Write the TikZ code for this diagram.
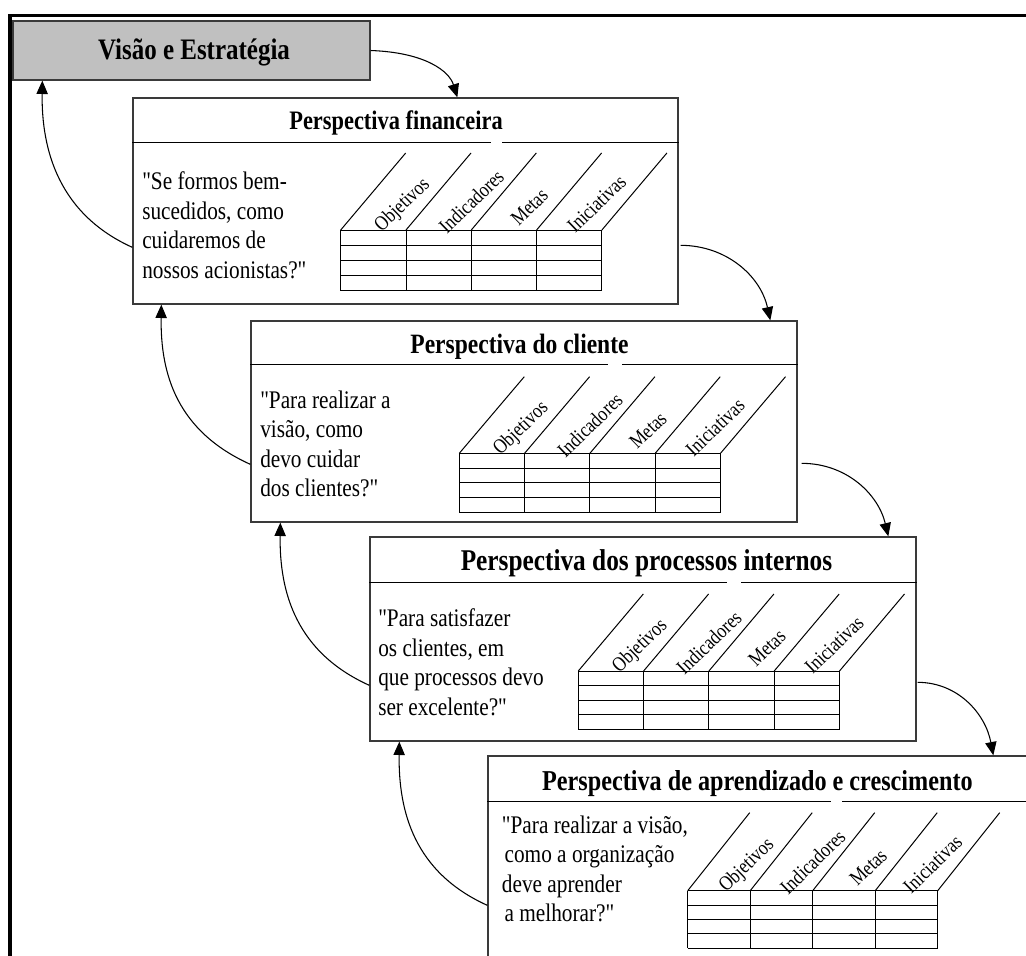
\documentclass[tikz,border=0pt]{standalone}
\usepackage{fontspec}
\setmainfont{Liberation Serif}[FakeStretch=0.84, Ligatures=TeXOff]
\usetikzlibrary{arrows.meta,fit,calc}
\definecolor{visfill}{HTML}{C0C0C0}
\definecolor{edge}{HTML}{3A3A3A}

\tikzset{
  frame/.style={line width=2.3pt, black},
  panel/.style={draw=edge, line width=1pt, fill=white, inner sep=0pt},
  vispanel/.style={draw=edge, line width=1pt, fill=visfill, inner sep=0pt},
  rule/.style={draw=black, line width=0.9pt},
  grid/.style={draw=black, line width=0.75pt},
  head/.style={font=\fontsize{#1}{25}\selectfont\bfseries, inner sep=0pt, anchor=base},
  head/.default=21,
  body/.style={font=\fontsize{19}{22.1}\selectfont, inner sep=0pt, align=left, anchor=base west},
  lbl/.style={font=\fontsize{15.5}{17}\selectfont, inner sep=0pt, rotate=44},
  flow/.style={draw=black, line width=0.8pt, -{Triangle[length=10pt,width=8.5pt]}},
}

% Grid of a scorecard panel: #1 name prefix, (#2,#3) top-left corner,
% #4 column width, #5 row height, (#6,#7) run and rise of the slanted rules
\newcommand\kpigrid[7]{%
  \foreach \i in {0,...,4} {
    \draw[grid] ({#2+\i*#4},{#3}) -- ++(#6,-#7);
    \draw[grid] ({#2+\i*#4},{#3}) -- ({#2+\i*#4},{#3+4*#5});
  }
  \foreach \j in {0,...,4}
    \draw[grid] ({#2},{#3+\j*#5}) -- ({#2+4*#4},{#3+\j*#5});
  \node[lbl] (#1-obj) at ({#2+0.95*#4},{#3-0.32*#7}) {Objetivos};
  \node[lbl] (#1-ind) at ({#2+2.00*#4},{#3-0.37*#7}) {Indicadores};
  \node[lbl] (#1-met) at ({#2+2.89*#4},{#3-0.30*#7}) {Metas};
  \node[lbl] (#1-ini) at ({#2+3.92*#4},{#3-0.34*#7}) {Iniciativas};
}

\begin{document}
\begin{tikzpicture}[x=0.75pt,y=-0.75pt]
\useasboundingbox (0,0) rectangle (1026,956);

% outer frame
\draw[frame] (10,1000) -- (10,15.5) -- (1100,15.5);

% panels
\node[vispanel, fit={(13,21) (370,80)}] (vis) {};
\node[panel, fit={(133,98) (678,304)}] (fin) {};
\node[panel, fit={(251,321) (797,522)}] (cli) {};
\node[panel, fit={(370,537) (916,741)}] (pro) {};
\node[panel, fit={(488,756) (1030,975)}] (apr) {};

% title separators (each with a small break)
\draw[rule] ($(fin.north west)+(0,45)$) -- ($(fin.north west)+(359,45)$);
\draw[rule] ($(fin.north west)+(370,45)$) -- ($(fin.north east)+(0,45)$);
\draw[rule] ($(cli.north west)+(0,44)$) -- ($(cli.north west)+(358,44)$);
\draw[rule] ($(cli.north west)+(372,44)$) -- ($(cli.north east)+(0,44)$);
\draw[rule] ($(pro.north west)+(0,46)$) -- ($(pro.north west)+(358,46)$);
\draw[rule] ($(pro.north west)+(372,46)$) -- ($(pro.north east)+(0,46)$);
\draw[rule] ($(apr.north west)+(0,46)$) -- ($(apr.north west)+(344,46)$);
\draw[rule] ($(apr.north west)+(355,46)$) -- ($(apr.north east)+(0,46)$);

% measure grids
\kpigrid{fg}{340.7}{230}{65.3}{15.2}{65}{77}
\kpigrid{cg}{459.3}{453.3}{65.3}{14.75}{65}{76.6}
\kpigrid{pg}{578.3}{671}{65.3}{14.6}{65}{77}
\kpigrid{ag}{687.7}{890.7}{62.5}{14.4}{62}{78}

% titles
\node[head=22.3] (vis-t) at (194,60) {Visão e Estratégia};
\node[head=20] (fin-t) at (396,130) {Perspectiva financeira};
\node[head=21] (cli-t) at (519.5,353.5) {Perspectiva do cliente};
\node[head=22.6] (pro-t) at (646.5,570) {Perspectiva dos processos internos};
\node[head=21.6] (apr-t) at (757.4,790) {Perspectiva de aprendizado e crescimento};

% guiding questions (anchored at the baseline of the last line)
\node[body] (fin-q) at (142,278) {"Se formos bem-\\sucedidos, como\\cuidaremos de\\nossos acionistas?"};
\node[body] (cli-q) at (260,496.7) {"Para realizar a\\visão, como\\devo cuidar\\dos clientes?"};
\node[body] (pro-q) at (378,715) {"Para satisfazer\\os clientes, em\\que processos devo\\ser excelente?"};
\node[body] (apr-q) at (501.7,921.7) {"Para realizar a visão,\\\hspace{2pt}como a organização\\deve aprender\\\hspace{2pt}a melhorar?"};

% cascade downwards
\draw[flow] (vis.east) .. controls +(55,2) and +(-8,-26) .. ($(fin.north west)+(325,0)$);
\draw[flow] ($(fin.north east)+(2,148)$) .. controls +(45,0) and +(-10,-45) .. ($(cli.north west)+(520,0)$);
\draw[flow] ($(cli.north east)+(4,143)$) .. controls +(45,0) and +(-10,-42) .. ($(pro.north west)+(519,0)$);
\draw[flow] ($(pro.north east)+(1,146)$) .. controls +(40,0) and +(-8,-42) .. ($(apr.north west)+(506,0)$);

% feedback upwards
\draw[flow] ($(fin.north west)+(0,150)$) .. controls +(-73,-33) and +(-1,70) .. ($(vis.south west)+(30,0)$);
\draw[flow] ($(cli.north west)+(0,144)$) .. controls +(-73,-33) and +(-1,70) .. ($(fin.south west)+(29,0)$);
\draw[flow] ($(pro.north west)+(0,149)$) .. controls +(-73,-33) and +(-1,70) .. ($(cli.south west)+(30,0)$);
\draw[flow] ($(apr.north west)+(0,150)$) .. controls +(-73,-33) and +(-1,70) .. ($(pro.south west)+(30,0)$);
\end{tikzpicture}
\end{document}
